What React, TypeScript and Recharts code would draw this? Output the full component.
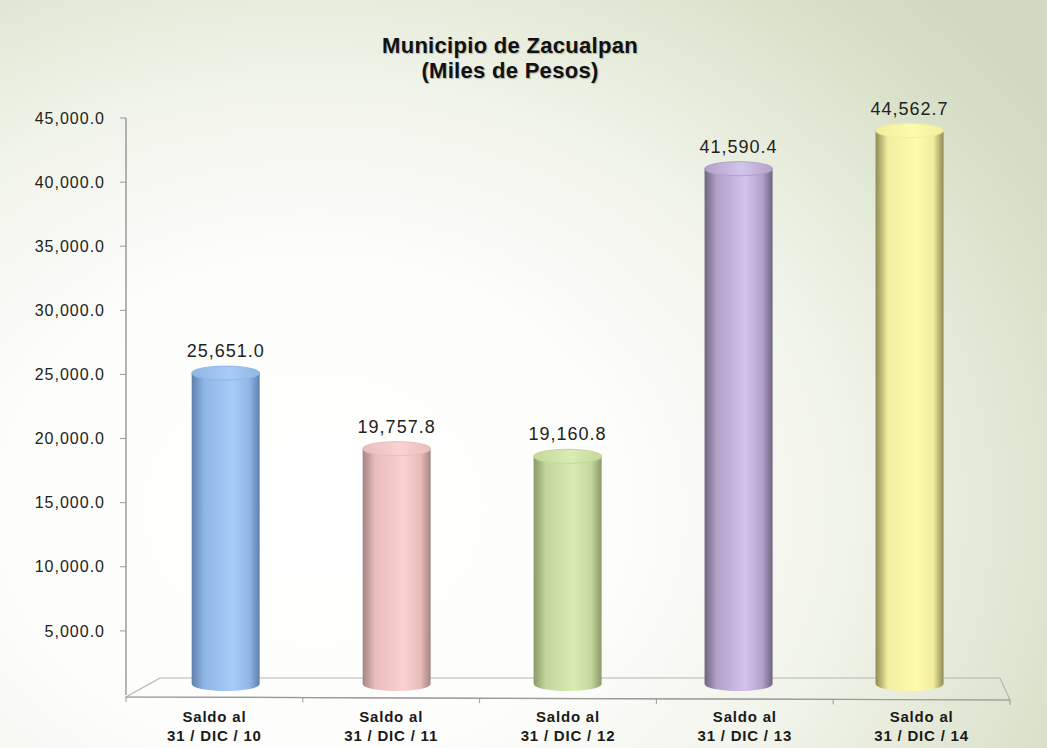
import React from 'react';
import { BarChart, Bar, XAxis, YAxis, LabelList } from 'recharts';

const categoryTop = ['Saldo al', 'Saldo al', 'Saldo al', 'Saldo al', 'Saldo al'];
const categoryBottom = ['31 / DIC / 10', '31 / DIC / 11', '31 / DIC / 12', '31 / DIC / 13', '31 / DIC / 14'];
const values = [25651.0, 19757.8, 19160.8, 41590.4, 44562.7];
const yTicks = [5000, 10000, 15000, 20000, 25000, 30000, 35000, 40000, 45000];

const baseColors = ['#8fb6e6', '#e8bcbb', '#c3d69b', '#b3a2c7', '#f2ee9f'];
const lightColors = ['#a8ccf8', '#fbd2d1', '#d9ecb2', '#d3c4ec', '#fffbac'];
const darkColors = ['#5f80ad', '#a38584', '#8a9a68', '#6f6382', '#8e8b55'];

const data = categoryTop.map((c, i) => ({
  key: c + ' ' + categoryBottom[i],
  line1: c,
  line2: categoryBottom[i],
  value: values[i],
}));

const FONT = '"Liberation Sans", Arial, sans-serif';
const PLOT_CENTER = 568;
const PERSPECTIVE = 0.033;

const fmt = (v: number) =>
  v.toLocaleString('en-US', { minimumFractionDigits: 1, maximumFractionDigits: 1 });

const Cylinder = (props: any) => {
  const { x: x0, y, width, height, index } = props;
  if (width == null || height == null) return null;
  const x = x0 - (x0 + width / 2 - PLOT_CENTER) * PERSPECTIVE;
  const rx = width / 2;
  const ry = 7;
  const bottom = y + height - 4;
  const gid = `cyl-body-${index}`;
  const cid = `cyl-cap-${index}`;
  const d = `M ${x} ${y + ry} L ${x} ${bottom - ry} A ${rx} ${ry} 0 0 0 ${x + width} ${bottom - ry} L ${x + width} ${y + ry} Z`;
  return (
    <g>
      <defs>
        <linearGradient id={gid} x1="0" y1="0" x2="1" y2="0">
          <stop offset="0%" stopColor={darkColors[index]} />
          <stop offset="18%" stopColor={baseColors[index]} />
          <stop offset="60%" stopColor={lightColors[index]} />
          <stop offset="85%" stopColor={baseColors[index]} />
          <stop offset="100%" stopColor={darkColors[index]} />
        </linearGradient>
        <linearGradient id={cid} x1="0" y1="0" x2="1" y2="0">
          <stop offset="0%" stopColor={baseColors[index]} />
          <stop offset="55%" stopColor={lightColors[index]} />
          <stop offset="100%" stopColor={baseColors[index]} />
        </linearGradient>
      </defs>
      <path d={d} fill={`url(#${gid})`} />
      <ellipse cx={x + rx} cy={y + ry} rx={rx} ry={ry} fill={`url(#${cid})`} stroke={baseColors[index]} strokeWidth={1} />
    </g>
  );
};

const ValueLabel = (props: any) => {
  const { x: x0, y, width, value } = props;
  const cx = x0 + width / 2 - (x0 + width / 2 - PLOT_CENTER) * PERSPECTIVE;
  return (
    <text x={cx} y={y - 9} textAnchor="middle" fontFamily={FONT} fontSize={18} fill="#222" letterSpacing={1}>
      {fmt(Number(value))}
    </text>
  );
};

const XTick = (props: any) => {
  const { x, y, index } = props;
  return (
    <text x={x} y={y} textAnchor="middle" fontFamily={FONT} fontWeight="bold" fontSize={15} fill="#1a1a1a" letterSpacing={0.8}>
      <tspan x={x} dy={19}>{categoryTop[index]}</tspan>
      <tspan x={x} dy={19}>{categoryBottom[index]}</tspan>
    </text>
  );
};

const Floor = () => {
  const left = 126;
  const right = 1010;
  const front = 697;
  const back = 678;
  const ticks = [0, 1, 2, 3, 4, 5].map((i) => left + ((right - left) * i) / 5);
  return (
    <g>
      <path
        d={`M ${left} ${front} L ${left + 34} ${back} L ${right - 10} ${back} L ${right} ${front + 3} Z`}
        fill="none"
        stroke="#b4b4b4"
        strokeWidth={1.2}
      />
      <line x1={left} y1={front} x2={right} y2={front + 3} stroke="#9a9a9a" strokeWidth={1.2} />
      {ticks.map((tx, i) => (
        <line key={i} x1={tx} y1={front + (3 * i) / 5} x2={tx} y2={front + (3 * i) / 5 + 5} stroke="#9a9a9a" strokeWidth={1} />
      ))}
    </g>
  );
};

export default function App() {
  return (
    <div
      style={{
        position: 'absolute',
        left: 0,
        top: 0,
        width: 1047,
        height: 748,
        background:
          'radial-gradient(ellipse 85% 95% at 30% 68%, #ffffff 0%, #fdfdfb 35%, #f1f4ea 60%, #dce3cd 85%, #d1d9c0 100%)',
        overflow: 'hidden',
      }}
    >
      <div
        style={{
          position: 'absolute',
          left: 0,
          top: 33,
          width: 1020,
          textAlign: 'center',
          fontFamily: FONT,
          fontWeight: 'bold',
          fontSize: 22,
          lineHeight: '25px',
          letterSpacing: 0.3,
          color: '#111',
          textShadow: '1px 1px 1px rgba(0,0,0,0.25)',
        }}
      >
        <div>Municipio de Zacualpan</div>
        <div>(Miles de Pesos)</div>
      </div>
      <div style={{ position: 'absolute', left: 0, top: 0 }}>
        <BarChart
          width={1047}
          height={748}
          data={data}
          margin={{ top: 118, right: 37, bottom: 3, left: 26 }}
          barSize={68}
        >
          <Floor />
          <XAxis dataKey="key" axisLine={false} tickLine={false} height={50} tick={<XTick />} interval={0} />
          <YAxis
            width={100}
            domain={[0, 45000]}
            ticks={yTicks}
            tickFormatter={fmt}
            axisLine={{ stroke: '#9a9a9a', strokeWidth: 1.5 }}
            tickLine={{ stroke: '#9a9a9a' }}
            tickSize={6}
            tickMargin={15}
            tick={{ fontFamily: FONT, fontSize: 16, fill: '#222', letterSpacing: 1 }}
          />
          <Bar dataKey="value" shape={<Cylinder />} isAnimationActive={false}>
            <LabelList dataKey="value" content={<ValueLabel />} />
          </Bar>
        </BarChart>
      </div>
    </div>
  );
}
